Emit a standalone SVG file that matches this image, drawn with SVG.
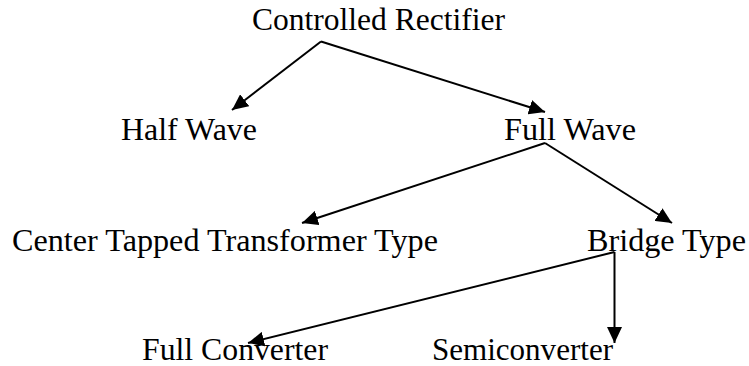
<svg xmlns="http://www.w3.org/2000/svg" width="749" height="366" viewBox="0 0 749 366">
<style>
.lbl { font-family: "Liberation Serif", "Times New Roman", serif; font-size: 31.5px; fill: #000; }
.edge { stroke: #000; stroke-width: 2; fill: none; marker-end: url(#arrow); }
</style>
<defs>
<marker id="arrow" markerUnits="userSpaceOnUse" markerWidth="16" markerHeight="15" viewBox="0 0 16 15" refX="16" refY="7.5" orient="auto">
<path d="M0,0 L16,7.5 L0,15 z" fill="#000"/>
</marker>
</defs>
<rect width="749" height="366" fill="#fff"/>
<g id="connectors">
<line class="edge" x1="321" y1="41.5" x2="232" y2="110"/>
<line class="edge" x1="321" y1="41.5" x2="545" y2="112"/>
<line class="edge" x1="545" y1="143" x2="302" y2="223"/>
<line class="edge" x1="545" y1="143" x2="672" y2="223"/>
<line class="edge" x1="614.5" y1="252" x2="248" y2="343"/>
<line class="edge" x1="614.5" y1="252" x2="614.5" y2="343"/>
</g>
<g id="controlled-rectifier"><text class="lbl" x="252" y="29.5" textLength="253" lengthAdjust="spacingAndGlyphs">Controlled Rectifier</text></g>
<g id="half-wave"><text class="lbl" x="121" y="140" textLength="136" lengthAdjust="spacingAndGlyphs">Half Wave</text></g>
<g id="full-wave"><text class="lbl" x="504" y="140" textLength="132" lengthAdjust="spacingAndGlyphs">Full Wave</text></g>
<g id="center-tapped"><text class="lbl" x="12" y="251" textLength="426" lengthAdjust="spacingAndGlyphs">Center Tapped Transformer Type</text></g>
<g id="bridge-type"><text class="lbl" x="587" y="251" textLength="159" lengthAdjust="spacingAndGlyphs">Bridge Type</text></g>
<g id="full-converter"><text class="lbl" x="142" y="360" textLength="186" lengthAdjust="spacingAndGlyphs">Full Converter</text></g>
<g id="semiconverter"><text class="lbl" x="432" y="360" textLength="181" lengthAdjust="spacingAndGlyphs">Semiconverter</text></g>
</svg>
